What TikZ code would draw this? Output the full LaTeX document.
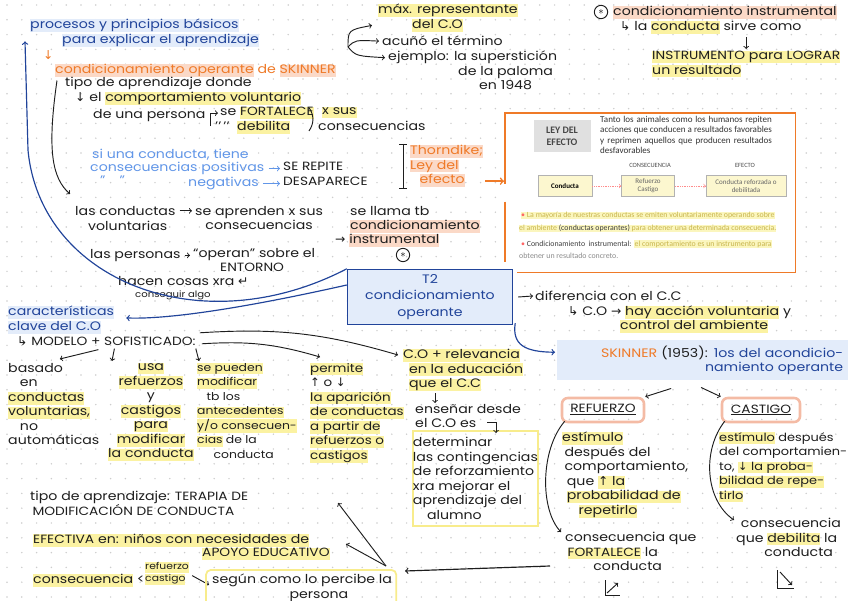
\documentclass[tikz,border=0pt]{standalone}
\usepackage{fontspec}
\setmainfont{Poppins}[FakeStretch=1.15]
\newfontfamily\dejavu{DejaVu Sans}
\newfontfamily\calib{Carlito}
\usetikzlibrary{calc}

\definecolor{ink}{HTML}{1E1E1E}
\definecolor{navy}{HTML}{21449A}
\definecolor{sky}{HTML}{6196E8}
\definecolor{orng}{HTML}{EF7A28}
\definecolor{hlyel}{HTML}{FBF2A2}
\definecolor{hlyelD}{HTML}{F8EC8C}
\definecolor{hlsal}{HTML}{FBD9C7}
\definecolor{hlblu}{HTML}{E3ECFA}
\definecolor{salB}{HTML}{F4BBA5}
\definecolor{dotc}{HTML}{CDCDCD}
\definecolor{shotyel}{HTML}{FBF6BE}
\definecolor{boxyel}{HTML}{FCF7CF}
\definecolor{olivetxt}{HTML}{C8B54E}

% highlighter strokes
\newcommand\hlmark[2]{{\setlength\fboxsep{0pt}\colorbox{#1}{\rule[-2.8pt]{0pt}{9.2pt}#2}}}
\newcommand\hly[1]{\hlmark{hlyel}{#1}}
\newcommand\hls[1]{\hlmark{hlsal}{#1}}
\newcommand\hlb[1]{\hlmark{hlblu}{#1}}
\newcommand\upc[1]{{\fontsize{10.2}{12.4}\selectfont #1}}
\newcommand\arD{{\dejavu ↓}}
\newcommand\arU{{\dejavu ↑}}
\newcommand\arR{{\dejavu →}}
\newcommand\arLsh{{\dejavu ↳}}
\newcommand\arRet{{\dejavu ↵}}

\begin{document}
\begin{tikzpicture}[x=0.03cm,y=-0.03cm,
  hand/.style={anchor=north west,inner sep=0pt,align=left,text=ink,font=\fontsize{10.5}{12.4}\selectfont},
  pen/.style={draw=ink,line width=0.8pt},
  navyp/.style={draw=navy,line width=1pt},
  skyp/.style={draw=sky,line width=0.8pt},
  orngp/.style={draw=orng,line width=1.3pt},
  astr/.style={circle,draw=ink,line width=0.8pt,inner sep=0pt,minimum size=0.4cm,font=\fontsize{9}{9}\selectfont},
  shot/.style={anchor=north west,inner sep=0pt,font=\calib\fontsize{6.7}{8.4}\selectfont},
  sbox/.style={draw=black!30,fill=boxyel,inner sep=1pt,align=center,minimum height=0.63cm,font=\calib\fontsize{6}{7}\selectfont},
  keybox/.style={draw=salB,line width=2.2pt,rounded corners=5pt,minimum height=0.72cm,inner sep=2pt,text=ink,font=\fontsize{10.5}{12.4}\selectfont}]

% paper
\useasboundingbox (0,0) rectangle (848,601);
\fill[white] (0,0) rectangle (848,601);
\foreach \i in {0,...,57} \foreach \j in {0,...,40} \fill[dotc] (7+14.8*\i,5+14.8*\j) circle (0.7pt);

% header
\node[hand,text=navy] (pa) at (30,19) {\hlb{procesos y principios básicos}};
\node[hand,text=navy] (pb) at (62,34) {\hlb{para explicar el aprendizaje}};
\node[hand,text=orng] (down0) at (43,50) {\arD};
\node[hand,text=orng] (co) at (55,64) {\hls{condicionamiento operante} de \hls{SKINNER}};
\node[hand] (tipo) at (65,77) {tipo de aprendizaje donde};
\node[hand] (comp) at (75,92) {\arD\ el \hly{comportamiento voluntario}};
\node[hand] (pers) at (93,109) {de una persona};
\node[hand] (fort1) at (220,107) {se \hly{\upc{FORTALECE}}};
\node[hand] (deb1) at (215,121) {’’\,’’\ \ \hly{debilita}};
\node[hand] (xsus) at (322,107) {\hly{x sus}};
\node[hand] (cons1) at (318,121) {consecuencias};
\draw[pen,->] ($(fort1.west)+(-10,13)$) |- ($(fort1.west)+(-2,0)$);
\draw[pen] ($(xsus.west)+(-13,-5)$) to[bend left=35] ($(cons1.west)+(-9,5)$);

% positive / negative
\node[hand,text=sky] (si) at (92,149) {si una conducta, tiene};
\node[hand,text=sky] (pos) at (90,162) {consecuencias positivas};
\node[hand,text=sky] (neg0) at (100,176) {”\hspace{12pt}”};
\node[hand,text=sky] (neg) at (188,177) {negativas};
\node[hand] (rep) at (283,162) {\upc{SE REPITE}};
\node[hand] (des) at (283,177) {\upc{DESAPARECE}};
\draw[skyp,->] ($(pos.east)+(4,0)$) -- ($(pos.east -| rep.west)+(-3,0)$);
\draw[skyp,->] ($(neg.east)+(4,0)$) -- ($(neg.east -| des.west)+(-3,0)$);

% Thorndike
\draw[pen] (399,144) -- (407,144) (403,144) -- (403,188) (399,188) -- (407,188);
\node[hand,text=orng] (thor) at (410,145) {\hls{Thorndike;}\\\hls{Ley del}\\\hspace*{8pt}\hls{efecto}};

% screenshot: ley del efecto
\node[fill=white,anchor=north west,minimum width=8.7cm,minimum height=4.77cm,inner sep=0pt] (shotbox) at (505,113) {};
\draw[orngp] ($(shotbox.west)+(0,-9)$) |- (shotbox.north east) |- ($(shotbox.south west)+(12,0)$);
\draw[orngp] ($(shotbox.west)+(0,9)$) -- ($(shotbox.south west)+(0,-10)$);
\draw[orngp,->] ($(thor.south east)+(2,-6)$) -- ($(thor.south east -| shotbox.west)+(-1,-6)$);
\node[fill=black!12,text=black!72,align=center,minimum width=1.71cm,minimum height=0.96cm,font=\calib\bfseries\fontsize{8.5}{10}\selectfont] (ley) at (562,136) {LEY DEL\\EFECTO};
\node[shot,text width=5.15cm,align=justify,text=black!80,font=\calib\fontsize{7.7}{8.9}\selectfont] (tanto) at (600,116) {\hyphenpenalty=10000 Tanto los animales como los humanos repiten acciones que conducen a resultados favorables y reprimen aquellos que producen resultados desfavorables};
\node[font=\calib\fontsize{5.5}{6}\selectfont,text=black!70] (cnsc) at (650,165) {CONSECUENCIA};
\node[font=\calib\fontsize{5.5}{6}\selectfont,text=black!70] (efct) at (745,165) {EFECTO};
\node[sbox,minimum width=1.62cm] (bc) at (565,186) {\textbf{Conducta}};
\node[sbox,minimum width=1.59cm,text=black!60] (br) at (648,186) {Refuerzo\\Castigo};
\node[sbox,minimum width=2.4cm,text=black!60] (be) at (746,186) {Conducta reforzada o\\debilitada};
\draw[red!45,densely dotted,->,line width=0.5pt] (bc) -- (br);
\draw[red!45,densely dotted,->,line width=0.5pt] (br) -- (be);
\node[shot,fill=shotyel,text=olivetxt] (b1) at (521,212) {{\color{red!60}•} La mayoría de nuestras conductas se emiten voluntariamente operando sobre};
\node[shot,fill=shotyel,text=olivetxt] (b2) at (519,225) {el ambiente {\color{black!75}(conductas operantes)} para obtener una determinada consecuencia.};
\node[shot,text=black!75] (b3) at (521,240) {{\color{red!60}•} Condicionamiento\ \ instrumental: {\setlength\fboxsep{0.6pt}\colorbox{shotyel}{\color{olivetxt}el comportamiento es un instrumento para}}};
\node[shot,text=black!45] (b4) at (519,253) {obtener un resultado concreto.};

% representante
\node[hand] (max) at (378,4) {\hly{máx. representante}};
\node[hand] (delco) at (412,19) {\hly{del C.O}};
\node[hand] (acu) at (382,36) {acuñó el término};
\node[hand] (ej) at (388,51) {ejemplo: la superstición};
\node[hand,align=center] (pal) at (458,66) {de la paloma\\en 1948};
\coordinate (hub) at (348,47);
\draw[pen,->] (hub) .. controls (348,30) .. ($(max.south west)+(-6,8)$);
\draw[pen,->] (hub) .. controls (355,40) .. ($(acu.west)+(-3,0)$);
\draw[pen,->] (hub) .. controls (356,56) .. ($(ej.west)+(-3,0)$);

% instrumental
\node[astr] (ast1) at (601,12) {$\ast$};
\node[hand] (ci) at (613,6) {\hls{condicionamiento instrumental}};
\node[hand] (sirve) at (620,21) {\arLsh\ la \hly{conducta} sirve como};
\node[hand] (instr) at (652,51) {\hly{\upc{INSTRUMENTO} para \upc{LOGRAR}}\\\hly{un resultado}};
\draw[pen,->] ($(sirve.south -| instr.north)+(0,3)$) -- ($(instr.north)+(0,-2)$);

% conductas voluntarias
\node[hand] (lc1) at (75,206) {las conductas};
\node[hand] (lc2) at (88,221) {voluntarias};
\node[hand,align=center] (apr) at (195,206) {se aprenden x sus\\consecuencias};
\draw[pen,->] ($(lc1.east)+(4,0)$) -- ($(lc1.east -| apr.west)+(-3,0)$);
\draw[pen,->] ($(tipo.west)+(-8,-3)$) .. controls (47,150) and (52,178) .. ($(lc1.north west)+(-5,-12)$);
\node[hand] (llama) at (350,206) {se llama tb};
\node[hand] (cond2) at (350,220) {\hls{condicionamiento}};
\node[hand] (instr2) at (335,234) {\arR\ \hls{instrumental}};
\node[astr] (ast2) at (403,255) {$\ast$};
\node[hand] (lp) at (90,249) {las personas};
\node[hand] (oper) at (193,248) {“operan” sobre el};
\node[hand] (ent) at (220,263) {\upc{ENTORNO}};
\draw[pen,->] ($(lp.east)+(4,0)$) -- ($(lp.east -| oper.west)+(-3,0)$);
\node[hand] (hac) at (118,276) {hacen cosas xra \arRet};
\node[hand,font=\fontsize{7.5}{9}\selectfont] (alg) at (135,291) {conseguir algo};

% T2
\node[draw=navy,fill=hlblu,line width=1.2pt,minimum width=4.95cm,minimum height=1.65cm,align=center,text=navy,font=\fontsize{10.5}{14}\selectfont] (t2) at (430,297) {T2\\condicionamiento\\operante};
\draw[navyp,->] (t2.north west) .. controls (200,345) and (40,280) .. (28,150) -- ($(pa.south west)+(-5,9)$);

% caracteristicas
\node[hand,text=navy] (car) at (8,306) {\hlb{características}\\\hlb{clave del C.O}};
\draw[navyp,->] ($(t2.west)+(0,-12)$) .. controls (280,300) and (180,320) .. ($(car.east)+(12,-2)$);
\node[hand] (mod) at (17,336) {\arLsh\ \upc{MODELO + SOFISTICADO:}};
\node[hand] (c1) at (8,363) {basado\\\hspace*{10pt}en\\\hly{conductas}\\\hly{voluntarias,}\\\hspace*{10pt}no\\automáticas};
\node[hand,align=center] (c2) at (108,363) {\hly{usa}\\\hly{refuerzos}\\y\\\hly{castigos}\\\hly{para}\\\hly{modificar}\\\hly{la conducta}};
\node[hand,font=\fontsize{9.2}{12.4}\selectfont] (c3) at (197,363) {\hly{se pueden}\\\hly{modificar}\\\hspace*{8pt}tb los\\\hly{antecedentes}\\\hly{y/o consecuen-}\\\hly{cias} de la\\\hspace*{14pt}conducta};
\node[hand,font=\fontsize{10}{12.4}\selectfont] (c4) at (310,363) {\hly{permite}\\\arU\ o \arD\\\hly{la aparición}\\\hly{de conductas}\\\hly{a partir de}\\\hly{refuerzos o}\\\hly{castigos}};
\draw[pen,->] ($(mod.south)+(-8,4)$) -- ($(c1.north)+(6,-4)$);
\draw[pen,->] ($(mod.south)+(8,3)$) -- ($(c2.north west)+(4,-2)$);
\draw[pen,->] ($(mod.south east)+(0,3)$) -- ($(c3.north west)+(2,-2)$);
\draw[pen,->] ($(mod.east)+(6,3)$) to[bend left=10] ($(c4.north west)+(10,-6)$);

% relevancia
\node[hand] (rel) at (403,349) {\hly{C.O + relevancia}\\\hspace*{5pt}\hly{en la educación}\\\hspace*{5pt}\hly{que el C.C}};
\draw[pen,->] ($(mod.east)+(4,-8)$) to[bend left=10] ($(rel.north west)+(-5,6)$);
\node[hand] (ens) at (415,404) {enseñar desde\\el C.O es};
\draw[pen,->] ($(rel.south west)+(32,2)$) -- ($(ens.north west)+(20,-1)$);
\node[hand,draw=hlyelD,line width=1.6pt,minimum width=3.75cm,minimum height=2.85cm] (det) at (412,430) {determinar\\las contingencias\\de reforzamiento\\xra mejorar el\\aprendizaje del\\\hspace*{12pt}alumno};
\draw[pen,->] ($(ens.south west)+(72,-6)$) -| ($(det.north west)+(84,3)$);

% diferencia
\node[hand] (dif) at (535,291) {diferencia con el C.C};
\draw[pen,->] ($(t2.east)+(5,0)$) -- ($(dif.west)+(-2,0)$);
\node[hand] (coh) at (568,306) {\arLsh\ C.O \arR\ \hly{hay acción voluntaria} y};
\node[hand] (ctrl) at (620,320) {\hly{control del ambiente}};

% Skinner
\node[hand,fill=hlblu,text width=8.4cm,align=right,inner xsep=5pt,inner ysep=3pt,minimum height=1.2cm] (sk) at (557,340) {{\color{orng}SKINNER} (1953): {\color{navy}1os del acondicio-}\\{\color{navy}namiento operante}};
\draw[navyp,->] ($(t2.south east)+(2,-2)$) .. controls (512,345) and (525,352) .. ($(sk.west)+(-2,-8)$);
\node[keybox,minimum width=2.46cm] (ref) at (603,410) {\underline{\upc{REFUERZO}}};
\node[keybox,minimum width=2.34cm] (cas) at (761,410) {\underline{\upc{CASTIGO}}};
\draw[pen,->] ($(sk.south)+(-32,8)$) -- (ref.north east);
\draw[pen,->] ($(sk.south)+(-2,7)$) -- (cas.north west);

\node[hand] (refd) at (562,432) {\hly{estímulo}\\\hspace*{2pt}después del\\\hspace*{2pt}comportamiento,\\\hspace*{4pt}que \hly{\arU\ la}\\\hspace*{4pt}\hly{probabilidad de}\\\hspace*{14pt}\hly{repetirlo}};
\node[hand] (fortc) at (565,532) {consecuencia que\\\hspace*{2pt}\hly{\upc{FORTALECE}} la\\\hspace*{24pt}conducta};
\draw[pen,->] ($(ref.south west)+(4,-2)$) .. controls (540,450) and (540,510) .. ($(fortc.north west)+(-4,0)$);
\node[hand,font=\fontsize{9.6}{12.4}\selectfont] (casd) at (719,432) {\hly{estímulo} después\\del comportamien-\\to, \hly{\arD\ la proba-}\\\hly{bilidad de repe-}\\\hly{tirlo}};
\node[hand] (deb) at (736,518) {\hspace*{4pt}consecuencia\\que \hly{debilita} la\\\hspace*{24pt}conducta};
\draw[pen,->] ($(cas.south west)+(4,-2)$) .. controls (702,450) and (705,500) .. ($(deb.north west)+(-2,2)$);
\draw[pen] (605,580) |- (620,595);
\draw[pen,->] (607,593) -- (618,583);
\draw[pen] (777,570) |- (794,588);
\draw[pen,->] (780,572) -- (792,585);

% bottom left
\node[hand] (ter) at (30,491) {tipo de aprendizaje: \upc{TERAPIA DE}\\\hspace*{2pt}\upc{MODIFICACIÓN DE CONDUCTA}};
\node[hand] (efe) at (33,534) {\hly{\upc{EFECTIVA} en: niños con necesidades de}};
\node[hand] (apoyo) at (202,548) {\hly{\upc{APOYO EDUCATIVO}}};
\node[hand] (csq) at (33,574) {\hly{consecuencia} <};
\node[hand,font=\fontsize{8}{10.2}\selectfont] (rc) at (145,562) {\hly{refuerzo}\\\hly{castigo}};
\node[hand] (perc) at (212,574) {según como lo percibe la\\\hspace*{66pt}persona};
\draw[pen,->] ($(rc.east)+(3,2)$) -- ($(perc.west)+(-3,-3)$);
\draw[hlyelD,line width=1.5pt,rounded corners=4pt] ($(perc.north west)+(-6,-4)$) rectangle ($(perc.south east)+(4,4)$);
\coordinate (hub2) at (386,566);
\draw[pen,->,line width=1pt] ($(fortc.south west)+(-15,-5)$) -- ($(hub2)+(19,5)$);
\draw[pen,->] (hub2) -- ($(hub2)+(-48,-63)$);
\draw[pen,->] (hub2) -- ($(hub2)+(-40,-22)$);
\end{tikzpicture}
\end{document}
